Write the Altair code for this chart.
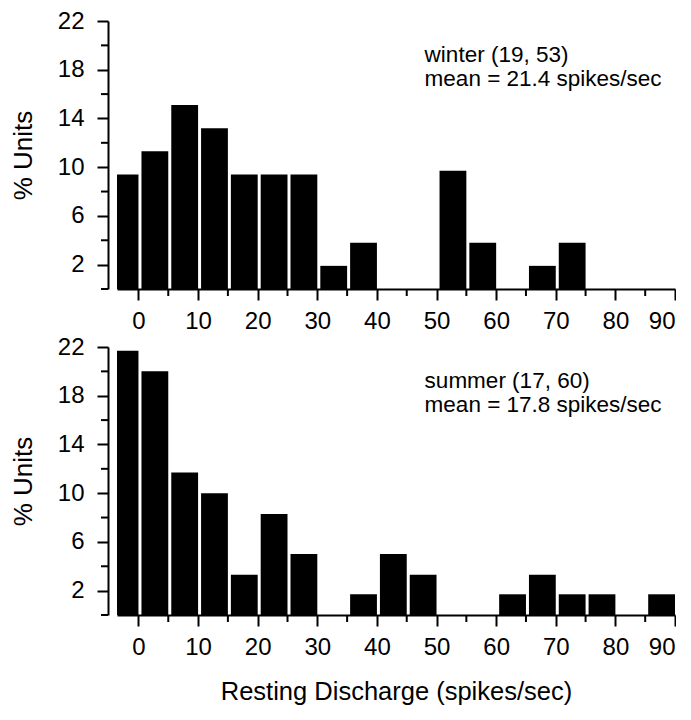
import altair as alt
import pandas as pd

# bin left edges (spikes/sec), bins are 5 wide
bin_start = [-5, 0, 5, 10, 15, 20, 25, 30, 35, 40, 45, 50, 55, 60, 65, 70, 75, 80, 85]
winter_pct = [9.4, 11.3, 15.1, 13.2, 9.4, 9.4, 9.4, 1.9, 3.8, 0, 0, 9.7, 3.8, 0, 1.9, 3.8, 0, 0, 0]
summer_pct = [21.7, 20.0, 11.7, 10.0, 3.3, 8.3, 5.0, 0, 1.7, 5.0, 3.3, 0, 0, 1.7, 3.3, 1.7, 1.7, 0, 1.7]
winter_label = ["winter (19, 53)", "mean = 21.4 spikes/sec"]
summer_label = ["summer (17, 60)", "mean = 17.8 spikes/sec"]
x_major = [0, 10, 20, 30, 40, 50, 60, 70, 80, 90]
x_minor = [5, 15, 25, 35, 45, 55, 65, 75, 85]
y_major = [2, 6, 10, 14, 18, 22]
y_minor = [0, 4, 8, 12, 16, 20]
BIN = 5
FONT = "Liberation Sans"
W, H = 558, 268
YOFF = 9


def panel(pct, label, xtitle):
    df = pd.DataFrame({"start": bin_start, "pct": pct})
    df["end"] = df["start"] + BIN
    df = df[df["pct"] > 0]
    xscale = alt.Scale(domain=[-3.6, 90], nice=False, zero=False)
    yscale = alt.Scale(domain=[0, 22], nice=False)
    xaxis = alt.Axis(
        values=x_major,
        tickSize=11,
        labelPadding=9,
        title=xtitle if xtitle else None,
        titleFontSize=25.5,
        titlePadding=20,
    )
    yaxis = alt.Axis(
        values=y_major,
        tickSize=11,
        labelPadding=13,
        offset=YOFF,
        title="% Units",
        titleFontSize=26,
        titlePadding=21,
    )
    bars = alt.Chart(df).mark_rect(color="black", clip=True, xOffset=3).encode(
        x=alt.X("start:Q", scale=xscale, axis=xaxis),
        x2="end:Q",
        y=alt.Y("pct:Q", scale=yscale, axis=yaxis),
        y2=alt.datum(0),
    )
    xm = alt.Chart(pd.DataFrame({"v": x_minor})).mark_rule(color="black", strokeWidth=2).encode(
        x=alt.X("v:Q", scale=xscale),
        y=alt.value(H),
        y2=alt.value(H + 7),
    )
    ym = alt.Chart(pd.DataFrame({"v": y_minor})).mark_rule(color="black", strokeWidth=2).encode(
        y=alt.Y("v:Q", scale=yscale),
        x=alt.value(-YOFF),
        x2=alt.value(-YOFF - 7),
    )
    ann = pd.DataFrame({"x": [48.0], "y": [18.65], "t": [label]})
    text = alt.Chart(ann).mark_text(
        align="left", baseline="alphabetic", fontSize=22.5, lineHeight=24, font=FONT, color="black"
    ).encode(x=alt.X("x:Q", scale=xscale), y=alt.Y("y:Q", scale=yscale), text="t")
    return alt.layer(bars, xm, ym, text).properties(width=W, height=H)


top = panel(winter_pct, winter_label, None)
bottom = panel(summer_pct, summer_label, "Resting Discharge (spikes/sec)")

chart = (
    alt.vconcat(top, bottom, spacing=2)
    .properties(padding={"left": 2, "top": 1, "right": 0, "bottom": 0}, background="white")
    .configure_view(stroke=None)
    .configure_axis(
        grid=False,
        domainColor="black",
        domainWidth=2,
        tickColor="black",
        tickWidth=2,
        labelFont=FONT,
        labelFontSize=24,
        labelColor="black",
        labelOverlap=False,
        titleFont=FONT,
        titleFontWeight="normal",
        titleColor="black",
    )
)

chart.save("out.html", embed_options={"renderer": "svg", "actions": False})
